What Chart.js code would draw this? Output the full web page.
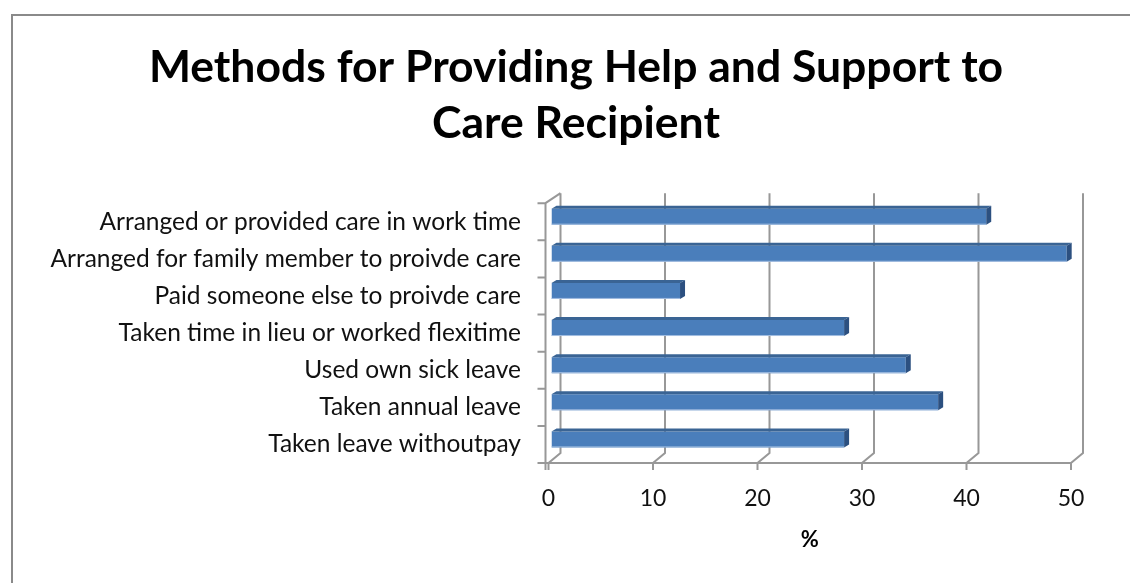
<!DOCTYPE html>
<html>
<head>
<meta charset="utf-8">
<title>Methods for Providing Help and Support to Care Recipient</title>
<script src="https://cdn.jsdelivr.net/npm/chart.js@4.4.1/dist/chart.umd.min.js"></script>
<style>
  html, body { margin: 0; padding: 0; background: #fff; }
  #wrap { width: 1130px; height: 583px; }
</style>
</head>
<body>
<div id="wrap"><canvas id="care-chart"></canvas></div>
<script>
// chart data
const categories = [
    'Arranged or provided care in work time',
    'Arranged for family member to proivde care',
    'Paid someone else to proivde care',
    'Taken time in lieu or worked flexitime',
    'Used own sick leave',
    'Taken annual leave',
    'Taken leave withoutpay'
];
const percentValues = [41.6, 49.3, 12.3, 28.0, 33.9, 37.0, 28.0];
const xTicks = [0, 10, 20, 30, 40, 50];
const titleLines = ['Methods for Providing Help and Support to', 'Care Recipient'];
const axisTitle = '%';

// depth offsets for the 3D look
const WALL_DX = 12, WALL_DY = -10;
const BAR_DX = 3, BAR_DY = -5;
const FACE_DX = 5, FACE_DY = -3;

const depthPlugin = {
    id: 'depth',
    beforeDraw(chart) {
        const ctx = chart.ctx;
        ctx.save();
        ctx.fillStyle = '#fff';
        ctx.fillRect(0, 0, chart.width, chart.height);
        ctx.strokeStyle = '#8a8a8a';
        ctx.lineWidth = 2;
        ctx.strokeRect(12, 15, chart.width + 20, chart.height + 20);
        ctx.restore();
    },
    beforeDatasetsDraw(chart) {
        const { ctx, chartArea: a, scales: { x } } = chart;
        const x0 = x.getPixelForValue(0);
        ctx.save();
        ctx.strokeStyle = '#989898';
        ctx.lineWidth = 2;
        ctx.beginPath();
        xTicks.forEach(v => {
            const px = x.getPixelForValue(v);
            // back wall line, floor edge and tick mark
            ctx.moveTo(px + WALL_DX, a.top + WALL_DY);
            ctx.lineTo(px + WALL_DX, a.bottom + WALL_DY);
            ctx.lineTo(px, a.bottom);
            ctx.lineTo(px, a.bottom + 7);
        });
        // front value axis
        ctx.moveTo(x0 - 11, a.bottom);
        ctx.lineTo(x.getPixelForValue(xTicks[xTicks.length - 1]), a.bottom);
        // side wall
        ctx.moveTo(x0 - 3, a.bottom + 7);
        ctx.lineTo(x0 - 3, a.top);
        ctx.lineTo(x0 + WALL_DX, a.top + WALL_DY);
        // category ticks
        for (let i = 0; i <= categories.length; i++) {
            const py = a.top + (a.bottom - a.top) * i / categories.length;
            ctx.moveTo(x0 - 11, py);
            ctx.lineTo(x0 - 3, py);
        }
        ctx.stroke();
        ctx.restore();

        // bars sit in the middle of the depth
        ctx.save();
        ctx.translate(BAR_DX, BAR_DY);
    },
    afterDatasetsDraw(chart) {
        const ctx = chart.ctx;
        chart.getDatasetMeta(0).data.forEach(bar => {
            const { x: end, y: cy, base, height } = bar.getProps(['x', 'y', 'base', 'height'], true);
            const top = cy - height / 2, bot = cy + height / 2;
            // top face
            ctx.fillStyle = '#3A6494';
            ctx.beginPath();
            ctx.moveTo(base, top);
            ctx.lineTo(base + FACE_DX, top + FACE_DY);
            ctx.lineTo(end + FACE_DX, top + FACE_DY);
            ctx.lineTo(end, top);
            ctx.closePath();
            ctx.fill();
            // right face
            ctx.fillStyle = '#2C5080';
            ctx.beginPath();
            ctx.moveTo(end, top);
            ctx.lineTo(end + FACE_DX, top + FACE_DY);
            ctx.lineTo(end + FACE_DX, bot + FACE_DY);
            ctx.lineTo(end, bot);
            ctx.closePath();
            ctx.fill();
            // light lower edge
            ctx.strokeStyle = 'rgba(175, 198, 230, 0.9)';
            ctx.lineWidth = 1;
            ctx.beginPath();
            ctx.moveTo(base, bot - 0.5);
            ctx.lineTo(end, bot - 0.5);
            ctx.stroke();
        });
        ctx.restore();
    }
};

new Chart(document.getElementById('care-chart'), {
    type: 'bar',
    data: {
        labels: categories,
        datasets: [{
            data: percentValues,
            backgroundColor: '#4A7EBB',
            borderWidth: 0,
            barPercentage: 0.43,
            categoryPercentage: 1
        }]
    },
    options: {
        indexAxis: 'y',
        responsive: true,
        maintainAspectRatio: false,
        animation: false,
        layout: { padding: { left: 22, right: 0, top: 0, bottom: 0 } },
        plugins: {
            legend: { display: false },
            tooltip: { enabled: false },
            title: {
                display: true,
                text: titleLines,
                color: '#000',
                font: { family: 'Lato', size: 44.5, weight: 'bold', lineHeight: 1.26 },
                padding: { top: 40, bottom: 51 }
            }
        },
        scales: {
            x: {
                min: 0,
                max: 50,
                grid: { display: false },
                border: { display: false },
                ticks: {
                    stepSize: 10,
                    color: '#111',
                    padding: 14,
                    font: { family: 'Lato', size: 23 }
                },
                title: {
                    display: true,
                    text: axisTitle,
                    color: '#000',
                    font: { family: 'Lato', size: 22, weight: 'bold' },
                    padding: { top: 0, bottom: 30 }
                },
                afterFit: s => { s.height = 120; }
            },
            y: {
                grid: { display: false },
                border: { display: false },
                ticks: {
                    color: '#111',
                    padding: 19.5,
                    font: { family: 'Lato', size: 24.5 }
                },
                afterFit: s => { s.width = 526.5; }
            },
            yRight: {
                type: 'category',
                position: 'right',
                grid: { display: false },
                border: { display: false },
                ticks: { display: false },
                afterFit: s => { s.width = 59; }
            }
        }
    },
    plugins: [depthPlugin]
});
</script>
</body>
</html>
